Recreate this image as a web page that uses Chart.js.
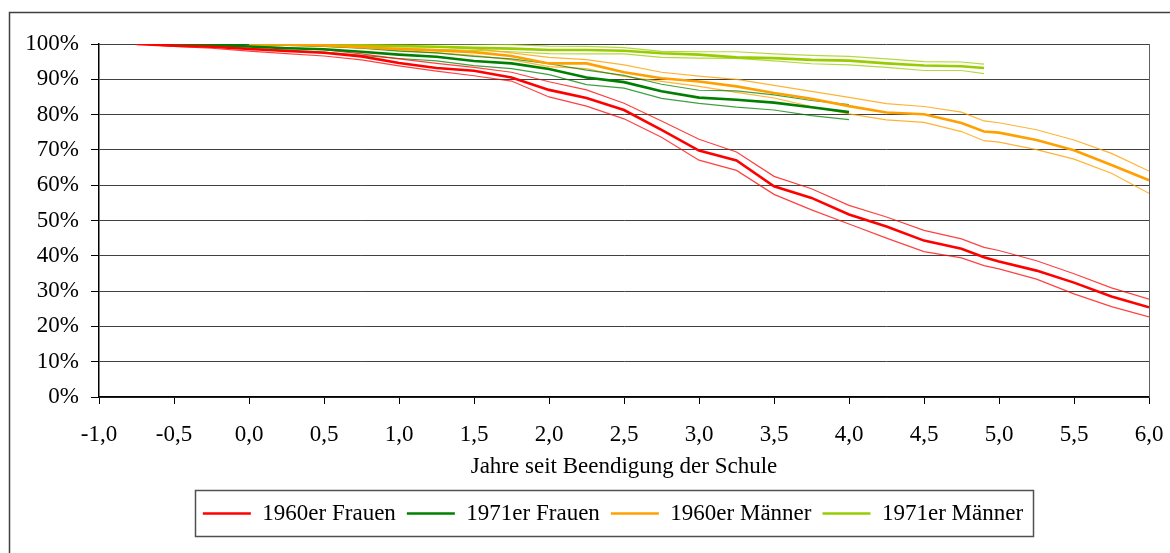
<!DOCTYPE html>
<html>
<head>
<meta charset="utf-8">
<script src="https://cdn.jsdelivr.net/npm/chart.js@4.4.0/dist/chart.umd.min.js"></script>
<style>
  html, body { margin: 0; padding: 0; background: #fff; }
  canvas { display: block; }
</style>
</head>
<body>
<canvas id="chart" width="1170" height="553"></canvas>
<script>
// years since leaving school (x grid shared by all series)
const years = [-1, -0.75, -0.5, -0.25, 0, 0.25, 0.5, 0.75, 1, 1.25, 1.5, 1.75, 2, 2.25, 2.5, 2.75,
  3, 3.25, 3.5, 3.75, 4, 4.25, 4.5, 4.75, 4.9, 5, 5.25, 5.5, 5.75, 6];

// 1960er Frauen
const frauen1960 = [null, 100, 99.5, 99.2, 98.6, 98.0, 97.5, 96.5, 94.6, 93.2, 92.4, 90.5, 87.0, 84.7, 81.3, 75.7,
  69.8, 67.0, 59.7, 56.4, 51.7, 48.3, 44.3, 42.0, 39.6, 38.4, 35.8, 32.4, 28.5, 25.4];
const frauen1960Hi = [null, 100, 100, 99.7, 99.3, 99.0, 98.4, 97.2, 95.8, 94.5, 93.4, 92.0, 89.3, 87.0, 83.2, 78.2,
  73.0, 69.4, 62.5, 59.0, 54.3, 51.0, 47.2, 44.8, 42.4, 41.5, 38.6, 34.9, 30.9, 27.7];
const frauen1960Lo = [null, 100, 99.3, 98.8, 98.0, 97.3, 96.6, 95.5, 93.8, 92.3, 91.0, 89.5, 85.0, 82.4, 78.8, 73.6,
  67.1, 64.2, 57.4, 53.0, 49.0, 45.0, 41.2, 39.4, 37.2, 36.3, 33.4, 29.2, 25.6, 22.7];

// 1971er Frauen
const frauen1971 = [null, null, 100, 99.7, 99.3, 98.8, 98.5, 97.8, 97.0, 96.4, 95.2, 94.5, 92.9, 90.5, 89.2, 86.6,
  84.8, 84.2, 83.4, 82.1, 80.7, null, null, null, null, null, null, null, null, null];
const frauen1971Hi = [null, null, 100, 100, 99.8, 99.6, 99.3, 98.8, 98.0, 97.5, 96.5, 95.8, 94.4, 92.6, 91.1, 88.6,
  86.9, 86.7, 85.6, 84.0, 82.8, null, null, null, null, null, null, null, null, null];
const frauen1971Lo = [null, null, 100, 99.4, 98.8, 98.3, 97.7, 96.8, 95.9, 95.2, 93.9, 93.0, 91.3, 88.5, 87.5, 84.6,
  83.2, 82.1, 81.3, 79.7, 78.6, null, null, null, null, null, null, null, null, null];

// 1960er Männer
const maenner1960 = [null, null, null, null, 100, 99.9, 99.6, 99.1, 98.6, 98.2, 97.7, 96.6, 94.5, 94.5, 92.0, 90.3,
  89.4, 88.0, 86.1, 84.5, 82.4, 80.6, 80.1, 77.6, 75.2, 74.9, 72.8, 69.9, 65.7, 61.4];
const maenner1960Hi = [null, null, null, null, 100, 100, 100, 99.8, 99.5, 99.2, 98.7, 97.5, 96.2, 95.6, 94.1, 92.0,
  90.9, 90.0, 88.3, 86.6, 84.9, 83.1, 82.3, 80.7, 78.2, 77.7, 75.7, 72.8, 69.0, 64.0];
const maenner1960Lo = [null, null, null, null, 100, 99.8, 99.3, 98.9, 98.2, 97.5, 96.8, 95.5, 93.6, 93.0, 90.8, 89.4,
  88.0, 86.3, 84.7, 82.3, 80.2, 78.5, 77.8, 75.2, 72.6, 72.2, 70.1, 67.4, 63.4, 57.7];

// 1971er Männer
const maenner1971 = [null, null, null, null, 100, 99.9, 99.7, 99.5, 99.4, 99.2, 98.9, 98.7, 98.3, 98.3, 98.1, 97.4,
  97.0, 96.2, 96.0, 95.5, 95.3, 94.5, 93.9, 93.7, 93.2, null, null, null, null, null];
const maenner1971Hi = [null, null, null, null, 100, 100, 100, 100, 100, 100, 100, 99.8, 99.4, 99.3, 99.0, 97.9,
  97.8, 97.8, 97.2, 96.8, 96.5, 95.8, 95.0, 94.9, 94.3, null, null, null, null, null];
const maenner1971Lo = [null, null, null, null, 100, 99.6, 99.4, 99.0, 98.8, 98.5, 98.2, 97.8, 97.3, 97.2, 97.2, 96.2,
  96.0, 95.9, 95.2, 94.4, 94.1, 93.4, 92.5, 92.5, 91.6, null, null, null, null, null];

const font = { family: "'Liberation Serif', 'Times New Roman', serif", size: 23 };

function pts(values) {
  return years.map((x, i) => ({ x: x, y: values[i] }));
}

function series(label, values, color, width) {
  return {
    label: label,
    data: pts(values),
    borderColor: color,
    backgroundColor: color,
    borderWidth: width,
    pointRadius: 0,
    fill: false,
    tension: 0
  };
}

const red = '#ff0000', green = '#008000', orange = '#ffa000', lime = '#99cc00';

const datasets = [
  series('1960er Frauen', frauen1960, red, 2.6),
  series('1971er Frauen', frauen1971, green, 2.6),
  series('1960er Männer', maenner1960, orange, 2.6),
  series('1971er Männer', maenner1971, lime, 2.6),
  series('', frauen1960Hi, 'rgba(255,0,0,0.75)', 1.2),
  series('', frauen1960Lo, 'rgba(255,0,0,0.75)', 1.2),
  series('', frauen1971Hi, 'rgba(0,128,0,0.75)', 1.2),
  series('', frauen1971Lo, 'rgba(0,128,0,0.75)', 1.2),
  series('', maenner1960Hi, 'rgba(255,160,0,0.8)', 1.2),
  series('', maenner1960Lo, 'rgba(255,160,0,0.8)', 1.2),
  series('', maenner1971Hi, 'rgba(153,204,0,0.75)', 1.2),
  series('', maenner1971Lo, 'rgba(153,204,0,0.75)', 1.2)
];

// white page, outer frame, plot's right edge and a box round the legend
const frame = {
  id: 'frame',
  afterUpdate(chart) {
    // nudge the legend a little to the left, like the original
    const l = chart.legend;
    l.left -= 11;
    l.right -= 11;
  },
  beforeDraw(chart) {
    const ctx = chart.ctx;
    ctx.save();
    ctx.fillStyle = '#fff';
    ctx.fillRect(0, 0, chart.width, chart.height);
    ctx.restore();
  },
  beforeDatasetsDraw(chart) {
    const { ctx, chartArea: a } = chart;
    ctx.save();
    ctx.strokeStyle = '#606060';
    ctx.lineWidth = 1;
    ctx.beginPath();
    ctx.moveTo(a.right + 0.5, a.top);
    ctx.lineTo(a.right + 0.5, a.bottom);
    ctx.stroke();
    ctx.restore();
  },
  afterDraw(chart) {
    const ctx = chart.ctx;
    ctx.save();
    ctx.strokeStyle = '#404040';
    ctx.lineWidth = 1.5;
    ctx.strokeRect(9.5, 12.5, chart.width + 20, chart.height + 20);
    const l = chart.legend;
    const pad = l.options.labels.padding;
    const lw = l.lineWidths[0];
    const x0 = (l.left + pad + l.right - lw) / 2;
    const left = x0 - 8;
    const right = x0 + lw - pad + 10;
    const top = l.top + pad - 12;
    const bottom = l.top + pad + font.size + 11;
    ctx.lineWidth = 1.5;
    ctx.strokeStyle = '#505050';
    ctx.strokeRect(Math.round(left) + 0.5, Math.round(top) + 0.5, Math.round(right - left), Math.round(bottom - top));
    ctx.restore();
  }
};

new Chart(document.getElementById('chart'), {
  type: 'line',
  data: { datasets: datasets },
  plugins: [frame],
  options: {
    responsive: false,
    animation: false,
    devicePixelRatio: 1,
    layout: { padding: { top: 44, right: 21, bottom: 18, left: 0 } },
    plugins: {
      tooltip: { enabled: false },
      legend: {
        position: 'bottom',
        fullSize: false,
        labels: {
          font: font,
          color: '#000',
          usePointStyle: true,
          pointStyleWidth: 48,
          pointStyle: 'line',
          padding: 11,
          filter: item => item.text !== ''
        }
      }
    },
    scales: {
      x: {
        type: 'linear',
        min: -1,
        max: 6,
        afterFit: s => { s.height = 94; s.paddingLeft = 0; s.paddingRight = 0; },
        ticks: {
          stepSize: 0.5,
          font: font,
          color: '#000',
          padding: 17,
          maxRotation: 0,
          callback: v => v.toFixed(1).replace('.', ',')
        },
        grid: { drawOnChartArea: false, drawTicks: true, tickLength: 7, tickColor: '#000' },
        border: { color: '#000', width: 1.5 },
        title: {
          display: true,
          text: 'Jahre seit Beendigung der Schule',
          font: font,
          color: '#000',
          padding: { top: 4, bottom: 10 }
        }
      },
      y: {
        min: 0,
        max: 100,
        afterFit: s => { s.width = 99; },
        ticks: {
          stepSize: 10,
          font: font,
          color: '#000',
          padding: 12,
          callback: v => v + '%'
        },
        grid: { color: '#404040', lineWidth: 1, tickLength: 8, tickColor: '#000' },
        border: { color: '#000', width: 1.5 }
      }
    }
  }
});
</script>
</body>
</html>
